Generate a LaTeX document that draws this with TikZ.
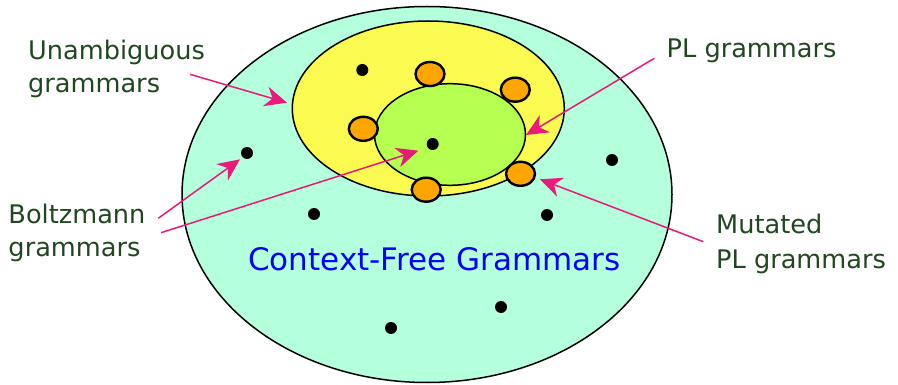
\documentclass[tikz,border=0pt]{standalone}
\usepackage{fontspec}
\setmainfont{DejaVu Sans}
\usetikzlibrary{arrows.meta}
\definecolor{mint}{RGB}{180,255,220}
\definecolor{yel}{RGB}{250,250,80}
\definecolor{lgreen}{RGB}{180,255,80}
\definecolor{orng}{RGB}{255,165,0}
\definecolor{mag}{RGB}{235,25,122}
\definecolor{lblgreen}{RGB}{33,70,33}
\definecolor{cfgblue}{RGB}{0,0,255}
\tikzset{
  region/.style={draw=black, line width=1.5pt},
  pl/.style={draw=black, fill=orng, line width=2.4pt},
  dot/.style={fill=black},
  lbl/.style={anchor=base west, inner sep=0pt, text=lblgreen, font=\fontsize{25.6}{30}\selectfont},
  pointer/.style={draw=mag, line width=1.5pt, -{Stealth[length=22pt, width=20pt, inset=7pt]}}
}
\begin{document}
\begin{tikzpicture}[x=1pt, y=-1pt]
\useasboundingbox (0,0) rectangle (898,385);
% regions
\draw[region, fill=mint] (427,194.5) ellipse [x radius=245, y radius=188];
\draw[region, fill=yel] (428.3,108.5) ellipse [x radius=136, y radius=87.5];
\draw[region, fill=lgreen] (450,134.5) ellipse [x radius=75.5, y radius=50.8];
% PL grammars (orange)
\draw[pl] (430,74) ellipse [x radius=14.5, y radius=12];
\draw[pl] (515.3,89.7) ellipse [x radius=14.5, y radius=12];
\draw[pl] (363.3,128.8) ellipse [x radius=14.5, y radius=12];
\draw[pl] (426.2,189.7) ellipse [x radius=14.5, y radius=12];
\draw[pl] (520.5,173.8) ellipse [x radius=14.5, y radius=12];
% dots
\fill[dot] (362.3,70) circle [radius=6];
\fill[dot] (432.7,144) circle [radius=6];
\fill[dot] (247,153) circle [radius=6];
\fill[dot] (612,160) circle [radius=6];
\fill[dot] (314,214) circle [radius=6];
\fill[dot] (547,215) circle [radius=6];
\fill[dot] (501,307) circle [radius=6];
\fill[dot] (391,328) circle [radius=6];
% title
\node[inner sep=0pt, anchor=base, text=cfgblue, font=\fontsize{31}{36}\selectfont] (cfg) at (434.5,271) {Context-Free Grammars};
% labels
\node[lbl] (unamb1) at (28,59.3) {Unambiguous};
\node[lbl] (unamb2) at (28,92.7) {grammars};
\node[lbl] (plg) at (666.5,57.7) {PL grammars};
\node[lbl] (boltz1) at (8.3,223.3) {Boltzmann};
\node[lbl] (boltz2) at (8.3,256.7) {grammars};
\node[lbl] (mut1) at (716,233.3) {Mutated};
\node[lbl] (mut2) at (716,268.3) {PL grammars};
% arrow ends
\coordinate (uS) at (190,74.3);
\coordinate (uT) at (287,102.7);
\coordinate (pS) at (654.3,58.3);
\coordinate (pT) at (526,135);
\coordinate (b1S) at (158.3,218.3);
\coordinate (b1T) at (240,159.3);
\coordinate (b2S) at (161,232.7);
\coordinate (b2T) at (418.3,150.7);
\coordinate (mS) at (703.3,241.7);
\coordinate (mT) at (540,179.3);
\draw[pointer] (uS) -- (uT);
\draw[pointer] (pS) -- (pT);
\draw[pointer] (b1S) -- (b1T);
\draw[pointer] (b2S) -- (b2T);
\draw[pointer] (mS) -- (mT);
\end{tikzpicture}
\end{document}
